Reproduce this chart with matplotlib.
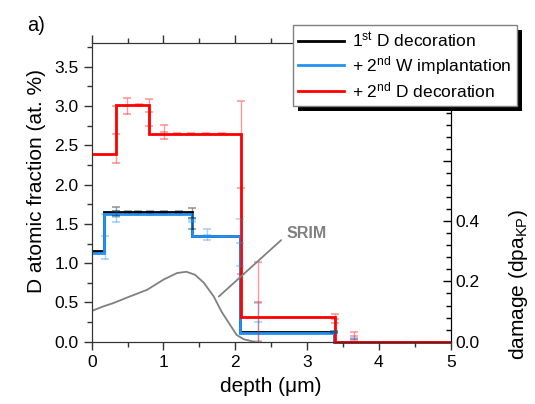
import numpy as np
import matplotlib
matplotlib.use('Agg')
import matplotlib.pyplot as plt
from matplotlib.ticker import MultipleLocator, FixedLocator, FuncFormatter
from matplotlib.patches import Rectangle

plt.rcParams['font.family'] = ['Liberation Sans', 'DejaVu Sans']
plt.rcParams['mathtext.fontset'] = 'custom'
plt.rcParams['mathtext.rm'] = 'Liberation Sans'
plt.rcParams['mathtext.it'] = 'Liberation Sans:italic'
plt.rcParams['mathtext.bf'] = 'Liberation Sans:bold'

# ── step profiles (depth bin edges in µm, D fraction in at.%) ──
black_edges = [0.0, 0.176, 1.395, 2.07, 3.38, 5.0]
black_vals = [1.16, 1.65, 1.34, 0.12, 0.0]
blue_edges = [0.0, 0.176, 1.395, 2.07, 3.38, 5.0]
blue_vals = [1.13, 1.62, 1.34, 0.115, 0.0]
red_edges = [0.0, 0.335, 0.80, 2.078, 3.385, 5.0]
red_vals = [2.39, 3.01, 2.64, 0.31, 0.0]

# ── measured points with uncertainties ──
black_x = [0.343, 0.51, 0.65, 0.81, 1.01, 1.21, 1.40, 3.38]
black_y = [1.66, 1.65, 1.65, 1.65, 1.65, 1.65, 1.57, 0.12]
black_err = [0.06, 0.01, 0.01, 0.01, 0.01, 0.01, 0.13, 0.01]

blue_x = [0.18, 0.343, 0.51, 0.65, 0.81, 1.01, 1.21, 1.40, 1.60, 1.83, 2.07, 2.32, 3.38, 3.66]
blue_y = [1.34, 1.59, 1.62, 1.62, 1.62, 1.62, 1.62, 1.55, 1.36, 1.34, 1.26, 0.25, 0.12, 0.04]
blue_err = [0.29, 0.07, 0.01, 0.01, 0.01, 0.01, 0.01, 0.03, 0.07, 0.01, 0.30, 0.24, 0.01, 0.01]

red_x = [0.334, 0.497, 0.655, 0.80, 1.008, 1.19, 1.39, 1.59, 1.82, 2.078, 2.315, 3.39, 3.66]
red_y = [2.64, 3.00, 3.02, 2.92, 2.67, 2.65, 2.65, 2.65, 2.65, 1.96, 0.51, 0.295, 0.07]
red_err = [0.36, 0.105, 0.01, 0.17, 0.085, 0.01, 0.01, 0.01, 0.01, 1.10, 0.51, 0.06, 0.05]

# ── SRIM damage profile (dpa_KP) ──
srim_x = [0.0, 0.16, 0.30, 0.53, 0.77, 1.00, 1.19, 1.32, 1.44, 1.56, 1.70, 1.81, 1.93, 2.02, 2.12, 2.26]
srim_dpa = [0.102, 0.117, 0.128, 0.150, 0.172, 0.206, 0.228, 0.232, 0.222, 0.196, 0.150, 0.099,
            0.055, 0.022, 0.008, 0.0]

BLACK = '#000000'
BLUE = '#2590f0'
RED = '#ff0000'
GRAY = '#808080'

fig = plt.figure(figsize=(5.35, 4.04), dpi=100)
ax = fig.add_axes([0.1714, 0.1542, 0.6710, 0.7386])
ax2 = ax.twinx()
ax.set_zorder(ax2.get_zorder() + 1)
ax.patch.set_visible(False)

# SRIM on the right axis
ax2.plot(srim_x, srim_dpa, color=GRAY, lw=1.3)

# error bars (light)
for xs, ys, es, c in [(black_x, black_y, black_err, BLACK),
                      (blue_x, blue_y, blue_err, BLUE),
                      (red_x, red_y, red_err, RED)]:
    ax.errorbar(xs, ys, yerr=es, fmt='_', color=c, ecolor=c, alpha=0.4,
                elinewidth=1, capsize=3, markersize=6, mew=1.2, clip_on=False)

# step profiles
ax.stairs(black_vals, black_edges, baseline=None, color=BLACK, lw=2,
          label='1$^{\\mathrm{st}}$ D decoration', clip_on=False)
ax.stairs(blue_vals, blue_edges, baseline=None, color=BLUE, lw=2,
          label='+ 2$^{\\mathrm{nd}}$ W implantation', clip_on=False)
ax.stairs(red_vals, red_edges, baseline=None, color=RED, lw=2,
          label='+ 2$^{\\mathrm{nd}}$ D decoration', clip_on=False)

ax.annotate('SRIM', xy=(1.77, 0.575), xytext=(2.72, 1.38),
            fontsize=11.5, fontweight='bold', color=GRAY, ha='left', va='center',
            arrowprops=dict(arrowstyle='-', color=GRAY, lw=1.3,
                            relpos=(0, 0.4), shrinkA=3, shrinkB=0))

ax.set_xlim(0, 5)
ax.set_ylim(0, 3.8)
ax2.set_ylim(0, 0.99)

ax.xaxis.set_major_locator(MultipleLocator(1))
ax.xaxis.set_minor_locator(MultipleLocator(0.5))
ax.yaxis.set_major_locator(MultipleLocator(0.5))
ax.yaxis.set_minor_locator(MultipleLocator(0.25))
ax.yaxis.set_major_formatter(FuncFormatter(lambda v, p: f'{v:.1f}'))

ax2.yaxis.set_major_locator(FixedLocator([0, 0.2, 0.4, 0.6, 0.8]))
ax2.yaxis.set_major_formatter(FuncFormatter(lambda v, p: f'{v:.1f}' if v < 0.5 else ''))
ax2.yaxis.set_minor_locator(MultipleLocator(0.04))

ax.tick_params(which='both', direction='out', top=True, right=False, labelsize=12.5,
               color='#333333')
ax.tick_params(which='major', length=6, width=1)
ax.tick_params(which='minor', length=3.5, width=1)
ax2.tick_params(which='both', direction='in', labelsize=12.5)
ax2.tick_params(which='major', length=6, width=1)
ax2.tick_params(which='minor', length=3.5, width=1)

for s in ['left', 'bottom', 'top']:
    ax.spines[s].set_color('#333333')
    ax2.spines[s].set_color('#333333')
ax2.spines['right'].set_color('black')

ax.set_xlabel('depth (μm)', fontsize=15, labelpad=5)
ax.set_ylabel('D atomic fraction (at. %)', fontsize=15)
ax.yaxis.set_label_coords(-0.128, 0.54)
ax2.set_ylabel('damage (dpa$_{\\mathrm{KP}}$)', fontsize=15)
ax2.yaxis.set_label_coords(1.157, 0.193)

fig.text(0.05, 0.96, 'a)', fontsize=14.5, ha='left', va='top')

leg = ax.legend(loc='upper left', bbox_to_anchor=(0.548, 0.938), bbox_transform=fig.transFigure,
                borderaxespad=0, fontsize=12.5, handlelength=2.6, handletextpad=0.5,
                borderpad=0.3, labelspacing=0.22, fancybox=False, framealpha=1,
                edgecolor=GRAY)
leg.get_frame().set_linewidth(1)
leg.set_zorder(10)

# manual black drop shadow behind the legend
fig.canvas.draw()
bb = leg.get_window_extent().transformed(fig.transFigure.inverted())
dx, dy = 5 / 535, 5 / 404
shadow = Rectangle((bb.x0 + dx, bb.y0 - dy), bb.width, bb.height, transform=fig.transFigure,
                   facecolor='black', edgecolor='none', zorder=9, clip_on=False)
ax.add_artist(shadow)

fig.savefig('out.png', dpi=100)
